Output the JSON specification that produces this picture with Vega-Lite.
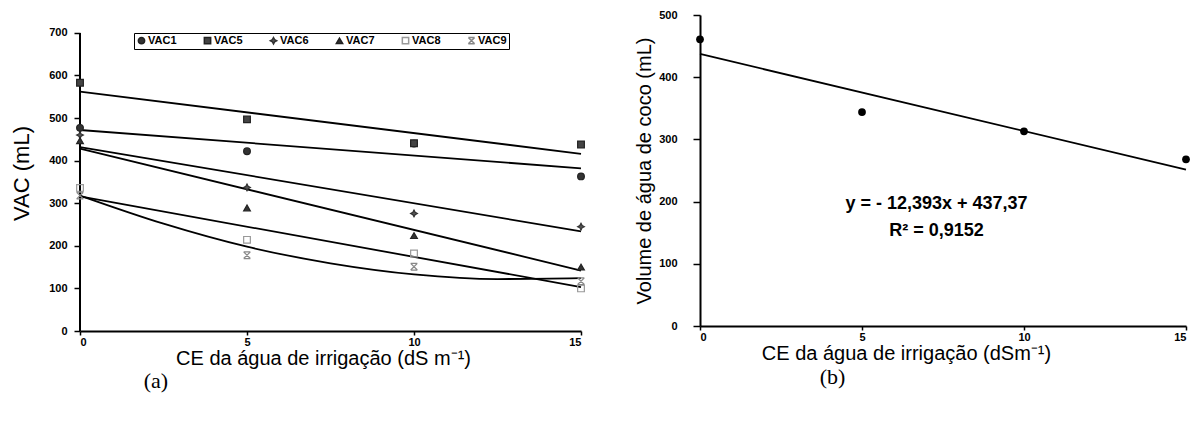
{
  "$schema": "https://vega.github.io/schema/vega-lite/v6.json",
  "background": "white",
  "padding": {"left": 10, "top": 9, "right": 5, "bottom": 5},
  "spacing": 47,
  "config": {
    "view": {"stroke": null},
    "font": "Liberation Sans",
    "axis": {
      "grid": false,
      "domainColor": "black",
      "domainWidth": 2,
      "tickColor": "black",
      "tickWidth": 1.5,
      "labelFont": "Liberation Sans",
      "labelFontWeight": "bold",
      "labelFontSize": 11,
      "labelColor": "black",
      "titleFont": "Liberation Sans",
      "titleFontWeight": "normal",
      "titleColor": "black"
    },
    "axisX": {"tickSize": 4, "labelPadding": 1, "titlePadding": 1, "titleFontSize": 20},
    "axisY": {"tickSize": 6, "labelPadding": 7}
  },
  "datasets": {
    "ptsA": [
      {"series": "VAC1", "ce": 0, "vac": 477}, {"series": "VAC1", "ce": 5, "vac": 422}, {"series": "VAC1", "ce": 10, "vac": 440}, {"series": "VAC1", "ce": 15, "vac": 363},
      {"series": "VAC5", "ce": 0, "vac": 583}, {"series": "VAC5", "ce": 5, "vac": 497}, {"series": "VAC5", "ce": 10, "vac": 441}, {"series": "VAC5", "ce": 15, "vac": 438},
      {"series": "VAC6", "ce": 0, "vac": 460}, {"series": "VAC6", "ce": 5, "vac": 337}, {"series": "VAC6", "ce": 10, "vac": 276}, {"series": "VAC6", "ce": 15, "vac": 245},
      {"series": "VAC7", "ce": 0, "vac": 447}, {"series": "VAC7", "ce": 5, "vac": 289}, {"series": "VAC7", "ce": 10, "vac": 224}, {"series": "VAC7", "ce": 15, "vac": 150},
      {"series": "VAC8", "ce": 0, "vac": 336}, {"series": "VAC8", "ce": 5, "vac": 214}, {"series": "VAC8", "ce": 10, "vac": 182}, {"series": "VAC8", "ce": 15, "vac": 100},
      {"series": "VAC9", "ce": 0, "vac": 318}, {"series": "VAC9", "ce": 5, "vac": 178}, {"series": "VAC9", "ce": 10, "vac": 151}, {"series": "VAC9", "ce": 15, "vac": 117}
    ],
    "linesA": [
      {"series": "VAC5", "ce": 0, "vac": 562}, {"series": "VAC5", "ce": 15, "vac": 416},
      {"series": "VAC1", "ce": 0, "vac": 472}, {"series": "VAC1", "ce": 15, "vac": 382},
      {"series": "VAC6", "ce": 0, "vac": 432}, {"series": "VAC6", "ce": 15, "vac": 234},
      {"series": "VAC7", "ce": 0, "vac": 428}, {"series": "VAC7", "ce": 15, "vac": 142},
      {"series": "VAC8", "ce": 0, "vac": 316}, {"series": "VAC8", "ce": 15, "vac": 103},
      {"series": "VAC9", "ce": 0, "vac": 318}, {"series": "VAC9", "ce": 2.5, "vac": 252}, {"series": "VAC9", "ce": 5, "vac": 198}, {"series": "VAC9", "ce": 7.5, "vac": 159}, {"series": "VAC9", "ce": 10, "vac": 133}, {"series": "VAC9", "ce": 12.5, "vac": 122}, {"series": "VAC9", "ce": 15, "vac": 124}
    ],
    "ptsB": [
      {"ce": 0, "vol": 461}, {"ce": 5, "vol": 344}, {"ce": 10, "vol": 313}, {"ce": 15, "vol": 268}
    ],
    "lineB": [
      {"ce": 0, "vol": 437.37}, {"ce": 15, "vol": 251.48}
    ],
    "eqB": [
      {"ce": 7.3, "vol": 196, "label": "y = - 12,393x + 437,37"},
      {"ce": 7.3, "vol": 153, "label": "R² = 0,9152"}
    ]
  },
  "hconcat": [
    {
      "width": 501,
      "height": 316,
      "title": {"text": "(a)", "orient": "bottom", "anchor": "start", "frame": "bounds", "dx": 133, "font": "Liberation Serif", "fontSize": 22, "fontWeight": "normal", "offset": 3, "color": "black"},
      "layer": [
        {
          "data": {"name": "linesA"},
          "mark": {"type": "line", "color": "black", "strokeWidth": 1.8, "interpolate": "monotone"},
          "encoding": {
            "x": {"field": "ce", "type": "quantitative", "scale": {"domain": [0, 15], "nice": false}, "axis": {"values": [0, 5, 10, 15], "title": "CE da água de irrigação (dS m⁻¹)", "titleX": 243}},
            "y": {"field": "vac", "type": "quantitative", "scale": {"domain": [0, 742], "nice": false}, "axis": {"values": [0, 100, 200, 300, 400, 500, 600, 700], "title": "VAC (mL)", "domain": false, "titleFontSize": 22, "titlePadding": 15}},
            "detail": {"field": "series"}
          }
        },
        {
          "data": {"values": [{"lo": 0, "hi": 700}]},
          "mark": {"type": "rule", "color": "black", "strokeWidth": 2},
          "encoding": {
            "x": {"datum": 0, "type": "quantitative"},
            "y": {"field": "lo", "type": "quantitative"},
            "y2": {"field": "hi"}
          }
        },
        {
          "data": {"name": "ptsA"},
          "mark": {"type": "point", "filled": true, "size": 45, "strokeWidth": 1.2, "opacity": 1},
          "encoding": {
            "x": {"field": "ce", "type": "quantitative"},
            "y": {"field": "vac", "type": "quantitative"},
            "shape": {"field": "series", "type": "nominal",
              "scale": {"domain": ["VAC1", "VAC5", "VAC6", "VAC7", "VAC8", "VAC9"], "range": ["circle", "square", "M0,-1L0.35,-0.35L1,0L0.35,0.35L0,1L-0.35,0.35L-1,0L-0.35,-0.35Z", "triangle-up", "square", "M-1,-1L1,1M1,-1L-1,1M-1,-1L1,-1M-1,1L1,1"]},
              "legend": {"orient": "none", "legendX": 54, "legendY": 18, "direction": "horizontal", "title": null, "strokeColor": "black", "padding": 2, "labelFont": "Liberation Sans", "labelFontWeight": "bold", "labelFontSize": 11, "labelColor": "black", "symbolSize": 40, "columnPadding": 24, "labelOffset": 1, "fillColor": "white"}},
            "fill": {"field": "series", "type": "nominal",
              "scale": {"domain": ["VAC1", "VAC5", "VAC6", "VAC7", "VAC8", "VAC9"], "range": ["#333333", "#444444", "#555555", "#333333", "transparent", "transparent"]},
              "legend": {"orient": "none", "legendX": 54, "legendY": 18, "direction": "horizontal", "title": null, "strokeColor": "black", "padding": 2, "labelFont": "Liberation Sans", "labelFontWeight": "bold", "labelFontSize": 11, "labelColor": "black", "symbolSize": 40, "columnPadding": 24, "labelOffset": 1, "fillColor": "white"}},
            "stroke": {"field": "series", "type": "nominal",
              "scale": {"domain": ["VAC1", "VAC5", "VAC6", "VAC7", "VAC8", "VAC9"], "range": ["#222222", "#222222", "#333333", "#222222", "#999999", "#888888"]},
              "legend": {"orient": "none", "legendX": 54, "legendY": 18, "direction": "horizontal", "title": null, "strokeColor": "black", "padding": 2, "labelFont": "Liberation Sans", "labelFontWeight": "bold", "labelFontSize": 11, "labelColor": "black", "symbolSize": 40, "columnPadding": 24, "labelOffset": 1, "fillColor": "white"}}
          }
        }
      ]
    },
    {
      "width": 486,
      "height": 311,
      "title": {"text": "(b)", "orient": "bottom", "anchor": "start", "frame": "bounds", "dx": 185, "font": "Liberation Serif", "fontSize": 22, "fontWeight": "normal", "offset": 4, "color": "black"},
      "layer": [
        {
          "data": {"name": "lineB"},
          "mark": {"type": "line", "color": "black", "strokeWidth": 1.8},
          "encoding": {
            "x": {"field": "ce", "type": "quantitative", "scale": {"domain": [0, 15], "nice": false}, "axis": {"values": [0, 5, 10, 15], "title": "CE da água de irrigação (dSm⁻¹)", "titleX": 206}},
            "y": {"field": "vol", "type": "quantitative", "scale": {"domain": [0, 500], "nice": false}, "axis": {"values": [0, 50, 100, 150, 200, 250, 300, 350, 400, 450, 500], "title": "Volume de água de coco (mL)", "titleFontSize": 20, "titlePadding": 4, "labelPadding": 16, "tickSize": 7}}
          }
        },
        {
          "data": {"name": "ptsB"},
          "mark": {"type": "point", "filled": true, "size": 60, "color": "black", "opacity": 1},
          "encoding": {
            "x": {"field": "ce", "type": "quantitative"},
            "y": {"field": "vol", "type": "quantitative"}
          }
        },
        {
          "data": {"name": "eqB"},
          "mark": {"type": "text", "font": "Liberation Sans", "fontWeight": "bold", "fontSize": 18, "color": "black", "align": "center", "baseline": "middle"},
          "encoding": {
            "x": {"field": "ce", "type": "quantitative"},
            "y": {"field": "vol", "type": "quantitative"},
            "text": {"field": "label"}
          }
        }
      ]
    }
  ]
}
